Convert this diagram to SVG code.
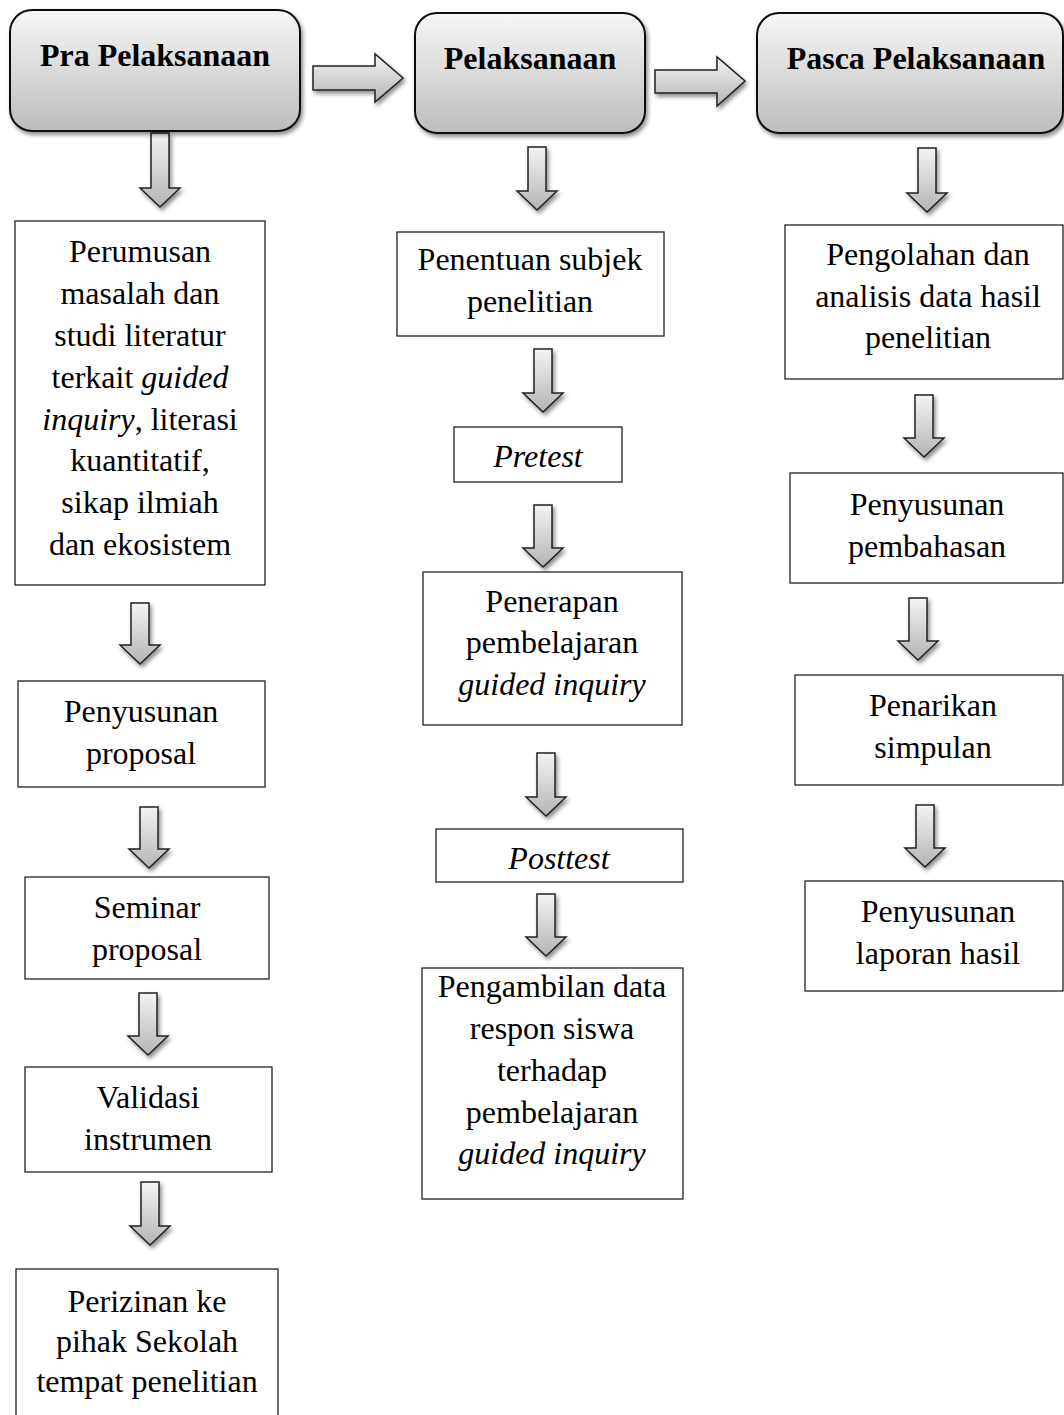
<svg xmlns="http://www.w3.org/2000/svg" width="1064" height="1415" viewBox="0 0 1064 1415">
<defs>
<linearGradient id="hdrGrad" x1="0" y1="0" x2="0" y2="1">
<stop offset="0" stop-color="#f7f7f7"/>
<stop offset="1" stop-color="#bdbdbd"/>
</linearGradient>
<linearGradient id="arrGrad" x1="0" y1="0" x2="0" y2="1">
<stop offset="0" stop-color="#f4f4f4"/>
<stop offset="1" stop-color="#b4b4b4"/>
</linearGradient>
<filter id="shadow" x="-10%" y="-10%" width="130%" height="130%">
<feDropShadow dx="2" dy="3" stdDeviation="2" flood-color="#000" flood-opacity="0.45"/>
</filter>
</defs>
<style>
.hdr{fill:url(#hdrGrad);stroke:#111;stroke-width:2;filter:url(#shadow)}
.box{fill:#fff;stroke:#222;stroke-width:1.3}
.arr{fill:url(#arrGrad);stroke:#222;stroke-width:1.5;stroke-linejoin:miter;filter:url(#shadow)}
.t{font-family:"Liberation Serif","Times New Roman",serif;font-size:32px;fill:#000;text-anchor:middle}
.b{font-weight:bold}
.i{font-style:italic}
</style>
<rect width="1064" height="1415" fill="#fff"/>

<g id="connectors">
<path class="arr" d="M313,66 H375 V54 L403,78 L375,102 V90 H313 Z"/>
<path class="arr" d="M655,70 H717 V57 L745,81 L717,106 V93 H655 Z"/>
<path class="arr" d="M151,133 H169 V188 H180 L160,207 L140,188 H151 Z"/>
<path class="arr" d="M131,603 H149 V645 H160 L140,664 L120,645 H131 Z"/>
<path class="arr" d="M140,807 H158 V849 H169 L149,868 L129,849 H140 Z"/>
<path class="arr" d="M139,993 H157 V1036 H168 L148,1055 L128,1036 H139 Z"/>
<path class="arr" d="M141,1182 H159 V1226 H170 L150,1245 L130,1226 H141 Z"/>
<path class="arr" d="M528,147 H546 V191 H557 L537,210 L517,191 H528 Z"/>
<path class="arr" d="M534,349 H552 V393 H563 L543,412 L523,393 H534 Z"/>
<path class="arr" d="M534,505 H552 V548 H563 L543,567 L523,548 H534 Z"/>
<path class="arr" d="M537,753 H555 V797 H566 L546,816 L526,797 H537 Z"/>
<path class="arr" d="M537,894 H555 V937 H566 L546,956 L526,937 H537 Z"/>
<path class="arr" d="M918,148 H936 V193 H947 L927,212 L907,193 H918 Z"/>
<path class="arr" d="M915,395 H933 V438 H944 L924,457 L904,438 H915 Z"/>
<path class="arr" d="M909,598 H927 V641 H938 L918,660 L898,641 H909 Z"/>
<path class="arr" d="M916,805 H934 V848 H945 L925,867 L905,848 H916 Z"/>
</g>

<g id="hdr-pra">
<rect class="hdr" x="10" y="10" width="290" height="121" rx="22" ry="22"/>
<text class="t b" x="155" y="66">Pra Pelaksanaan</text>
</g>
<g id="hdr-pelaksanaan">
<rect class="hdr" x="415" y="13" width="230" height="120" rx="22" ry="22"/>
<text class="t b" x="530" y="69">Pelaksanaan</text>
</g>
<g id="hdr-pasca">
<rect class="hdr" x="757" y="13" width="306" height="120" rx="22" ry="22"/>
<text class="t b" x="916" y="69">Pasca Pelaksanaan</text>
</g>

<g id="perumusan">
<rect class="box" x="15" y="221" width="250" height="364"/>
<text class="t" x="140" y="262">Perumusan</text>
<text class="t" x="140" y="304">masalah dan</text>
<text class="t" x="140" y="346">studi literatur</text>
<text class="t" x="140" y="388">terkait <tspan class="i">guided</tspan></text>
<text class="t" x="140" y="430"><tspan class="i">inquiry</tspan>, literasi</text>
<text class="t" x="140" y="471">kuantitatif,</text>
<text class="t" x="140" y="513">sikap ilmiah</text>
<text class="t" x="140" y="555">dan ekosistem</text>
</g>
<g id="penyusunan-proposal">
<rect class="box" x="18" y="681" width="247" height="106"/>
<text class="t" x="141" y="722">Penyusunan</text>
<text class="t" x="141" y="764">proposal</text>
</g>
<g id="seminar-proposal">
<rect class="box" x="25" y="877" width="244" height="102"/>
<text class="t" x="147" y="918">Seminar</text>
<text class="t" x="147" y="960">proposal</text>
</g>
<g id="validasi">
<rect class="box" x="25" y="1067" width="247" height="105"/>
<text class="t" x="148" y="1108">Validasi</text>
<text class="t" x="148" y="1150">instrumen</text>
</g>
<g id="perizinan">
<rect class="box" x="16" y="1269" width="262" height="160"/>
<text class="t" x="147" y="1312">Perizinan ke</text>
<text class="t" x="147" y="1352">pihak Sekolah</text>
<text class="t" x="147" y="1392">tempat penelitian</text>
</g>

<g id="penentuan">
<rect class="box" x="397" y="232" width="267" height="104"/>
<text class="t" x="530" y="270">Penentuan subjek</text>
<text class="t" x="530" y="312">penelitian</text>
</g>
<g id="pretest">
<rect class="box" x="454" y="427" width="168" height="55"/>
<text class="t i" x="538" y="467">Pretest</text>
</g>
<g id="penerapan">
<rect class="box" x="423" y="572" width="259" height="153"/>
<text class="t" x="552" y="612">Penerapan</text>
<text class="t" x="552" y="653">pembelajaran</text>
<text class="t i" x="552" y="695">guided inquiry</text>
</g>
<g id="posttest">
<rect class="box" x="436" y="829" width="247" height="53"/>
<text class="t i" x="559" y="869">Posttest</text>
</g>
<g id="pengambilan">
<rect class="box" x="422" y="968" width="261" height="231"/>
<text class="t" x="552" y="997">Pengambilan data</text>
<text class="t" x="552" y="1039">respon siswa</text>
<text class="t" x="552" y="1081">terhadap</text>
<text class="t" x="552" y="1123">pembelajaran</text>
<text class="t i" x="552" y="1164">guided inquiry</text>
</g>

<g id="pengolahan">
<rect class="box" x="785" y="225" width="278" height="154"/>
<text class="t" x="928" y="265">Pengolahan dan</text>
<text class="t" x="928" y="307">analisis data hasil</text>
<text class="t" x="928" y="348">penelitian</text>
</g>
<g id="penyusunan-pembahasan">
<rect class="box" x="790" y="473" width="273" height="110"/>
<text class="t" x="927" y="515">Penyusunan</text>
<text class="t" x="927" y="557">pembahasan</text>
</g>
<g id="penarikan">
<rect class="box" x="795" y="675" width="268" height="110"/>
<text class="t" x="933" y="716">Penarikan</text>
<text class="t" x="933" y="758">simpulan</text>
</g>
<g id="penyusunan-laporan">
<rect class="box" x="805" y="881" width="258" height="110"/>
<text class="t" x="938" y="922">Penyusunan</text>
<text class="t" x="938" y="964">laporan hasil</text>
</g>
</svg>
